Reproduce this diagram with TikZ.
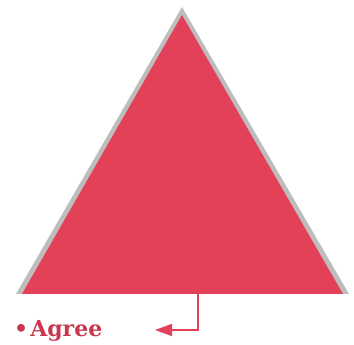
\documentclass[tikz,border=0pt]{standalone}
\usepackage{fontspec}
\newfontfamily\slab{DejaVu Serif}
\usetikzlibrary{arrows.meta}
\definecolor{trired}{HTML}{E3405A}
\definecolor{trigray}{HTML}{BDBDBD}
\definecolor{txtred}{HTML}{C8374E}
\begin{document}
\begin{tikzpicture}[x=1pt,y=1pt,
  lbl/.style={font=\slab\bfseries\fontsize{22}{26}\selectfont, text=txtred, inner sep=0pt, anchor=base west},
  conn/.style={draw=trired, line width=1.6pt, -{Triangle[length=17pt,width=12pt]}}]
\useasboundingbox (0,0) rectangle (354,345);
% shadow triangle
\fill[trigray] (182,338) -- (349,51) -- (16,51) -- cycle;
% main triangle
\fill[trired] (182,330) -- (343,51) -- (22,51) -- cycle;
\coordinate (top) at (198,52);
\coordinate (corner) at (198,15);
\node[lbl] (agree) at (14,8) {\raisebox{0.5pt}{\textbullet}\hspace{2pt}Agree};
\coordinate (tip) at (155,15);
\draw[conn] (top) -- (corner) -- (tip);
\end{tikzpicture}
\end{document}
